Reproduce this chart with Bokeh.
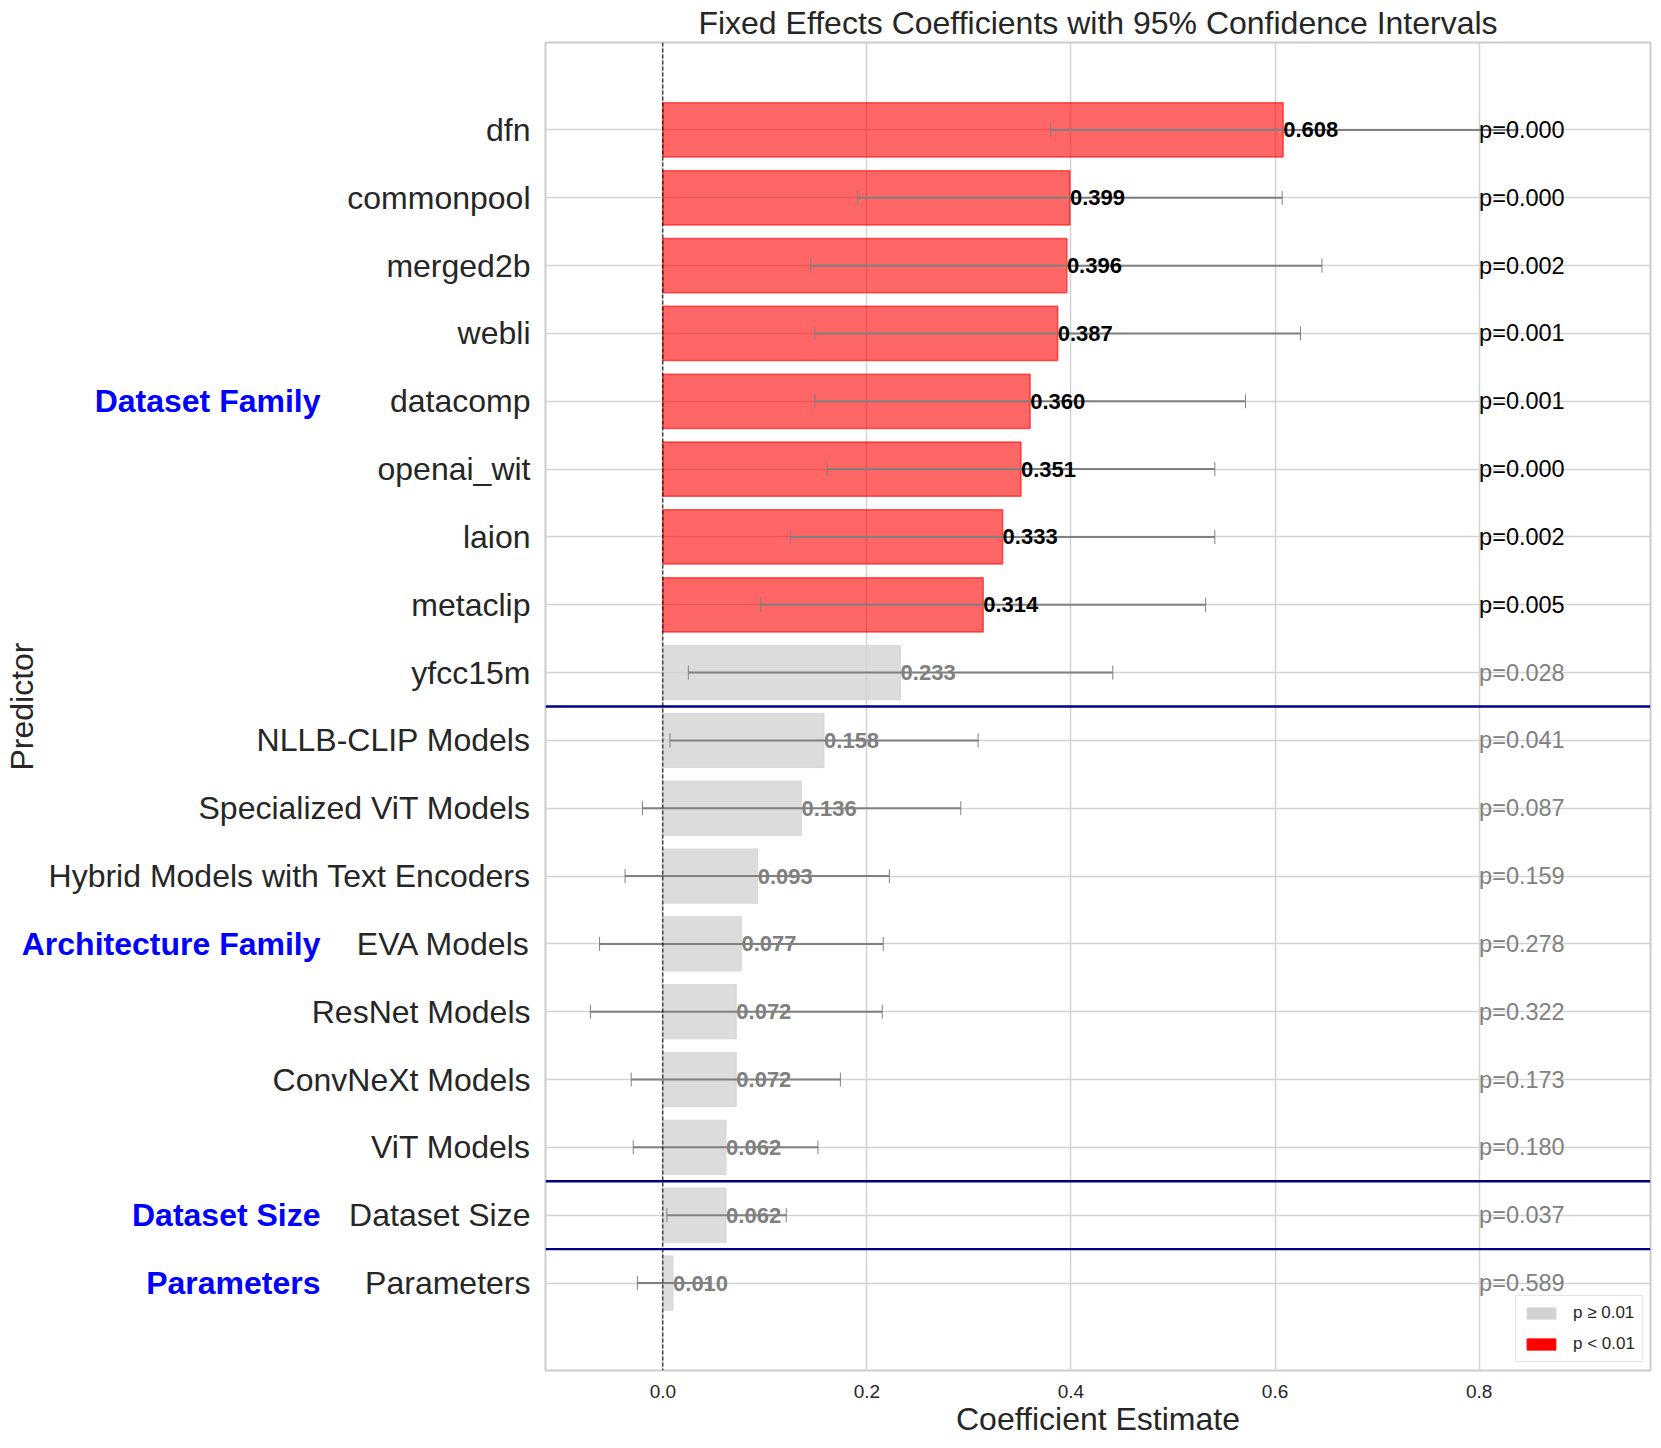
import numpy as np
from bokeh.plotting import figure
from bokeh.models import (Range1d, FixedTicker, Span, Legend, LegendItem,
                          ColumnDataSource, LinearAxis)
from bokeh.core.properties import value
from bokeh.embed import file_html
from bokeh.resources import INLINE

# ---------------- data (top to bottom) ----------------
predictors = ["dfn", "commonpool", "merged2b", "webli", "datacomp", "openai_wit",
              "laion", "metaclip", "yfcc15m", "NLLB-CLIP Models",
              "Specialized ViT Models", "Hybrid Models with Text Encoders",
              "EVA Models", "ResNet Models", "ConvNeXt Models", "ViT Models",
              "Dataset Size", "Parameters"]
groups = (["Dataset Family"] * 9 + ["Architecture Family"] * 7 +
          ["Dataset Size", "Parameters"])
coefs = [0.608, 0.399, 0.396, 0.387, 0.360, 0.351, 0.333, 0.314, 0.233,
         0.158, 0.136, 0.093, 0.077, 0.072, 0.072, 0.062, 0.062, 0.010]
ci_low = [0.380, 0.191, 0.145, 0.149, 0.149, 0.161, 0.125, 0.096, 0.025,
          0.007, -0.020, -0.037, -0.062, -0.071, -0.031, -0.029, 0.004, -0.025]
ci_high = [0.836, 0.607, 0.646, 0.625, 0.571, 0.541, 0.541, 0.532, 0.441,
           0.309, 0.292, 0.222, 0.216, 0.215, 0.174, 0.152, 0.121, 0.045]
pvals = [0.000, 0.000, 0.002, 0.001, 0.001, 0.000, 0.002, 0.005, 0.028,
         0.041, 0.087, 0.159, 0.278, 0.322, 0.173, 0.180, 0.037, 0.589]
x_ticks = [0.0, 0.2, 0.4, 0.6, 0.8]
ALPHA_SIG = 0.01
P_TEXT_X = 0.8

FONT_NAME = "Liberation Sans"
FONT = value(FONT_NAME)
DARK = "#262626"

n = len(predictors)
ys = [n - 1 - i for i in range(n)]

def make_source(sig):
    idx = [i for i in range(n) if (pvals[i] < ALPHA_SIG) == sig]
    return ColumnDataSource(dict(
        y=[ys[i] for i in idx],
        coef=[coefs[i] for i in idx],
        low=[ci_low[i] for i in idx],
        high=[ci_high[i] for i in idx],
        vlabel=[f"{coefs[i]:.3f}" for i in idx],
        plabel=[f"p={pvals[i]:.3f}" for i in idx],
        px=[P_TEXT_X for i in idx],
    ))

src_sig = make_source(True)
src_ns = make_source(False)

p = figure(width=1661, height=1448, output_backend="svg", toolbar_location=None,
           x_range=Range1d(-0.115, 0.968), y_range=Range1d(-1.29, n - 1 + 1.29),
           min_border_left=545, min_border_right=11, min_border_top=42,
           min_border_bottom=78,
           title="Fixed Effects Coefficients with 95% Confidence Intervals")

p.title.text_font = FONT_NAME
p.title.text_font_size = "32px"
p.title.text_font_style = "normal"
p.title.text_color = DARK
p.title.align = "center"
p.title.standoff = 4

p.background_fill_color = "white"
p.outline_line_color = "#cccccc"
p.outline_line_width = 2

def style_axis(ax):
    ax.axis_line_color = None
    ax.major_tick_line_color = None
    ax.minor_tick_line_color = None
    ax.major_tick_out = 0
    ax.major_tick_in = 0
    ax.major_label_text_font = FONT_NAME
    ax.major_label_text_color = DARK
    ax.axis_label_text_font = FONT_NAME
    ax.axis_label_text_font_style = "normal"
    ax.axis_label_text_font_size = "32px"
    ax.axis_label_text_color = DARK

# x axis
xax = p.xaxis[0]
style_axis(xax)
xax.ticker = FixedTicker(ticks=x_ticks)
xax.major_label_overrides = {t: f"{t:.1f}" for t in x_ticks}
xax.major_label_text_font_size = "19px"
xax.major_label_standoff = 14
xax.axis_label = "Coefficient Estimate"
xax.axis_label_standoff = 0

# inner y axis: predictor names
yax = p.yaxis[0]
style_axis(yax)
yax.ticker = FixedTicker(ticks=ys)
yax.major_label_overrides = {y: name for y, name in zip(ys, predictors)}
yax.major_label_text_font_size = "32px"
yax.major_label_standoff = 15

# outer y axis: group names (shifted back over the inner labels)
group_names = []
for g in groups:
    if g not in group_names:
        group_names.append(g)
group_centers = []
for gname in group_names:
    gy = [ys[i] for i in range(n) if groups[i] == gname]
    group_centers.append((min(gy) + max(gy)) / 2)
gax = LinearAxis(ticker=FixedTicker(ticks=group_centers),
                 major_label_overrides={c: g for c, g in zip(group_centers, group_names)})
style_axis(gax)
gax.major_label_text_font_size = "32px"
gax.major_label_text_font_style = "bold"
gax.major_label_text_color = "blue"
gax.major_label_standoff = -275
gax.axis_label = "Predictor"
gax.axis_label_standoff = -21
p.add_layout(gax, "left")

p.xgrid.ticker = FixedTicker(ticks=x_ticks)
p.ygrid.ticker = FixedTicker(ticks=ys)
for g in (p.xgrid[0], p.ygrid[0]):
    g.grid_line_color = "#d3d3d3"
    g.grid_line_width = 1.5

# bars
p.hbar(y="y", left=0, right="coef", height=0.8, source=src_ns,
       fill_color="lightgray", fill_alpha=0.8, line_color="lightgray", line_alpha=0.8)
p.hbar(y="y", left=0, right="coef", height=0.8, source=src_sig,
       fill_color="red", fill_alpha=0.6, line_color="red", line_alpha=0.6, line_width=1.5)

# error bars
for src in (src_ns, src_sig):
    p.segment(x0="low", y0="y", x1="high", y1="y", source=src,
              line_color="gray", line_width=2)
    for col in ("low", "high"):
        p.scatter(x=col, y="y", source=src, marker="dash", angle=np.pi / 2,
                  size=14, line_color="gray", line_width=1)

# value + p texts
for src, col in ((src_sig, "black"), (src_ns, "gray")):
    p.text(x="coef", y="y", text="vlabel", source=src, text_font=FONT,
           text_font_style="bold", text_font_size="22px", text_color=col,
           text_align="left", text_baseline="middle")
    p.text(x="px", y="y", text="plabel", source=src, text_font=FONT,
           text_font_size="23.5px", text_color=col,
           text_align="left", text_baseline="middle")

# zero line
p.add_layout(Span(location=0, dimension="height", line_color="black",
                  line_dash="4 2", line_width=1))

# group separators
for i in range(1, n):
    if groups[i] != groups[i - 1]:
        p.add_layout(Span(location=(ys[i] + ys[i - 1]) / 2, dimension="width",
                          line_color="navy", line_width=2.4))

# legend (hidden full-colour renderers)
r_ns = p.hbar(y="y", left=0, right="coef", height=0.8, source=src_ns,
              fill_color="lightgray", line_color="lightgray", visible=False)
r_sig = p.hbar(y="y", left=0, right="coef", height=0.8, source=src_sig,
               fill_color="red", line_color="red", visible=False)
legend = Legend(items=[LegendItem(label="p \u2265 0.01", renderers=[r_ns]),
                       LegendItem(label="p < 0.01", renderers=[r_sig])],
                location=(970, 8), label_text_font=FONT_NAME, label_text_font_size="17px",
                label_text_color=DARK, glyph_width=36, glyph_height=14,
                label_height=14, label_standoff=14, spacing=11, padding=7,
                border_line_color="#cccccc", border_line_width=1.5,
                background_fill_color="white", background_fill_alpha=0.8, margin=0)
p.add_layout(legend)

open("out.html", "w").write(file_html(p, INLINE))
